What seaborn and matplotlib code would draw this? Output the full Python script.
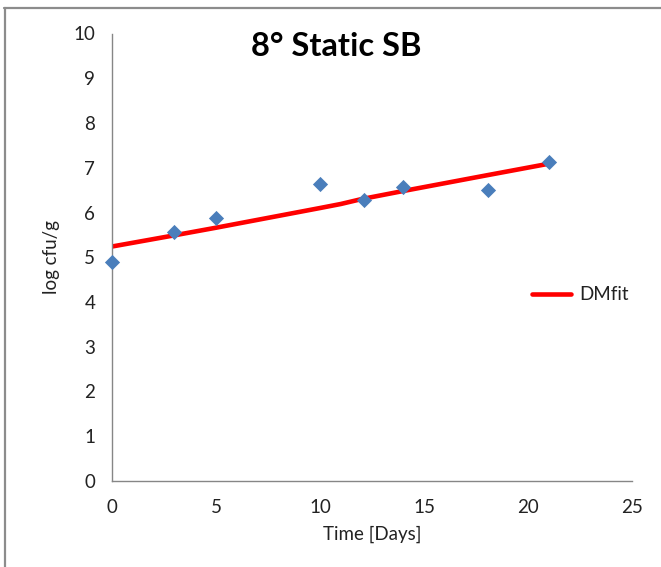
import matplotlib
matplotlib.use("Agg")
import matplotlib.pyplot as plt
from matplotlib.lines import Line2D
import seaborn as sns
import pandas as pd

# Data
obs_days = [0, 3, 5, 10, 12.1, 14, 18.1, 21]
obs_logcfu = [4.90, 5.56, 5.87, 6.63, 6.28, 6.58, 6.51, 7.12]
fit_days = [0, 3, 5, 10, 11, 12, 14, 18, 21]
fit_logcfu = [5.24, 5.49, 5.66, 6.10, 6.19, 6.30, 6.48, 6.83, 7.09]
title = "8° Static SB"
xlabel = "Time [Days]"
ylabel = "log cfu/g"
legend_label = "DMfit"

obs = pd.DataFrame({"day": obs_days, "logcfu": obs_logcfu})
fit = pd.DataFrame({"day": fit_days, "logcfu": fit_logcfu})

sns.set_style("white")
plt.rcParams["font.family"] = ["Lato", "DejaVu Sans"]

W, H = 661, 567
fig = plt.figure(figsize=(W / 100, H / 100), dpi=100)
ax = fig.add_axes([112 / W, 1 - 481 / H, (632 - 112) / W, (481 - 33.5) / H])

sns.lineplot(data=fit, x="day", y="logcfu", ax=ax, color="#FF0000", linewidth=3.3,
             label=legend_label, zorder=2)
sns.scatterplot(data=obs, x="day", y="logcfu", ax=ax, marker="D", s=60, color="#4A7EBB",
                edgecolor="#4A7EBB", linewidth=0, zorder=3, legend=False, clip_on=False)

ax.set_xlim(0, 25)
ax.set_ylim(0, 10)
ax.set_xticks(range(0, 26, 5))
ax.set_yticks(range(0, 11))
for s in ["top", "right"]:
    ax.spines[s].set_visible(False)
for s in ["left", "bottom"]:
    ax.spines[s].set_color("#868686")
    ax.spines[s].set_linewidth(1.0)
ax.tick_params(axis="both", direction="out", length=5, width=1, color="#868686",
               labelsize=13.5, labelcolor="#222222")
ax.tick_params(axis="y", pad=7)
ax.tick_params(axis="x", pad=8)

ax.set_xlabel(xlabel, fontsize=13.5, color="#222222", labelpad=7)
ax.set_ylabel(ylabel, fontsize=13.5, color="#222222", labelpad=10)

fig.text(336 / W, 1 - 47 / H, title, ha="center", va="center", fontsize=23.5,
         fontweight="bold", color="#000000")

leg = ax.legend(loc="center left", bbox_to_anchor=(532 / W, 1 - 295 / H),
                bbox_transform=fig.transFigure, frameon=False, fontsize=13.5,
                handlelength=2.1, handletextpad=0.4, borderpad=0, borderaxespad=0)
for t in leg.get_texts():
    t.set_color("#222222")

# outer frame (gray)
fig.add_artist(Line2D([4 / W, 1.0], [1 - 7.5 / H, 1 - 7.5 / H], transform=fig.transFigure,
                      color="#8C8C8C", linewidth=1.6))
fig.add_artist(Line2D([5 / W, 5 / W], [0, 1 - 7.5 / H], transform=fig.transFigure,
                      color="#8C8C8C", linewidth=1.6))

fig.savefig("out.png", dpi=100)
